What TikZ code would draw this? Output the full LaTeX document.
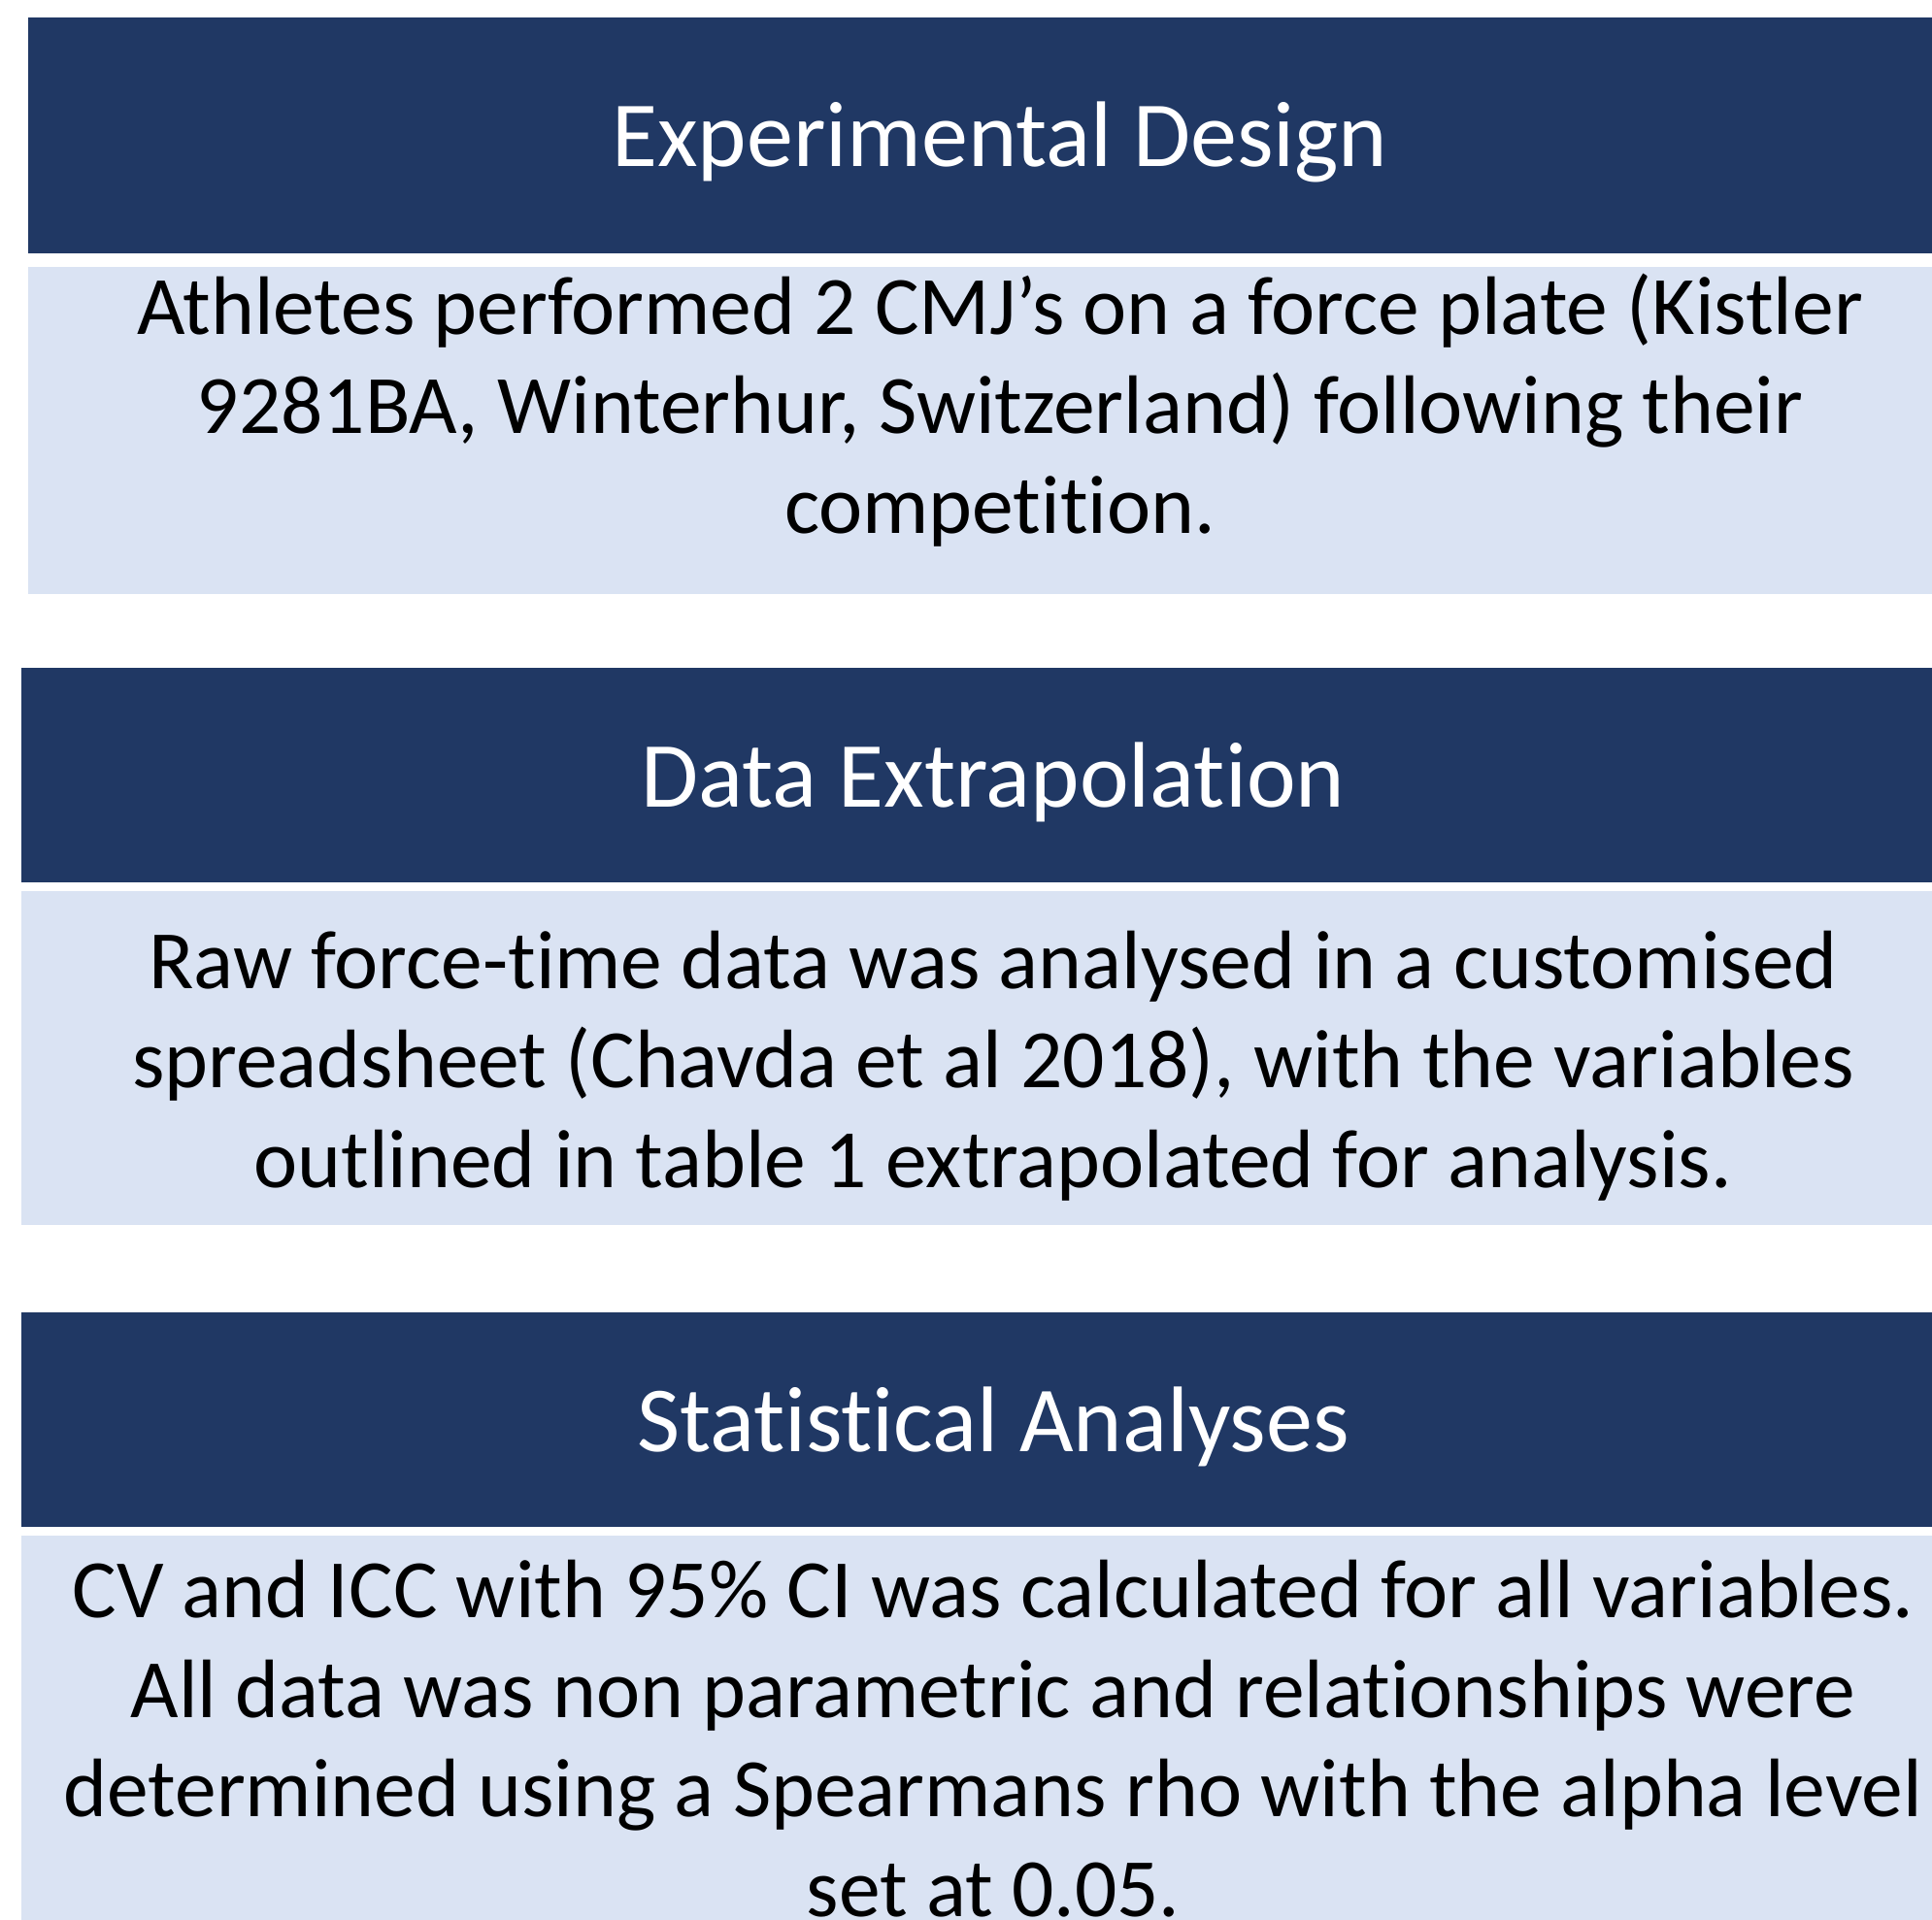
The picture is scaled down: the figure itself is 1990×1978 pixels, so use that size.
\documentclass[tikz,border=0pt]{standalone}
\usepackage{fontspec}
\setmainfont{Carlito}[Ligatures={NoCommon}]
\definecolor{navy}{HTML}{203864}
\definecolor{pale}{HTML}{DAE3F3}
\begin{document}
\begin{tikzpicture}[x=1pt,y=-1pt,
  headbox/.style={fill=navy,draw=none},
  bodybox/.style={fill=pale,draw=none},
  headtext/.style={text=white,font=\fontsize{96}{115}\selectfont,anchor=base,inner sep=0pt},
  bodytext/.style={text=black,font=\fontsize{85.5}{102.5}\selectfont,align=center,anchor=base,inner sep=0pt}]
\useasboundingbox (0,0) rectangle (1990,1978);
\fill[white] (0,0) rectangle (1990,1978);
\begin{scope}
\clip (0,0) rectangle (1990,1978);
% box 1
\fill[headbox] (29,18) rectangle (2040,261);
\fill[bodybox] (29,275) rectangle (2040,612);
% box 2
\fill[headbox] (22,688) rectangle (2030,909);
\fill[bodybox] (22,918) rectangle (2030,1262);
% box 3
\fill[headbox] (22,1352) rectangle (2030,1573);
\fill[bodybox] (22,1582) rectangle (2030,1990);
\end{scope}
\node[headtext] (t1) at (1030,171) {Experimental Design};
\node[bodytext] (b1) at (1030,549) {Athletes performed 2 CMJ’s on a force plate (Kistler\\9281BA, Winterhur, Switzerland) following their\\competition.};
\node[headtext] (t2) at (1023,831) {Data Extrapolation};
\node[bodytext] (b2) at (1023,1223) {Raw force-time data was analysed in a customised\\spreadsheet (Chavda et al 2018), with the variables\\outlined in table 1 extrapolated for analysis.};
\node[headtext] (t3) at (1023,1495) {Statistical Analyses};
\node[bodytext] (b3) at (1023,1974) {CV and ICC with 95\% CI was calculated for all variables.\\All data was non parametric and relationships were\\determined using a Spearmans rho with the alpha level\\set at 0.05.};
\end{tikzpicture}
\end{document}
